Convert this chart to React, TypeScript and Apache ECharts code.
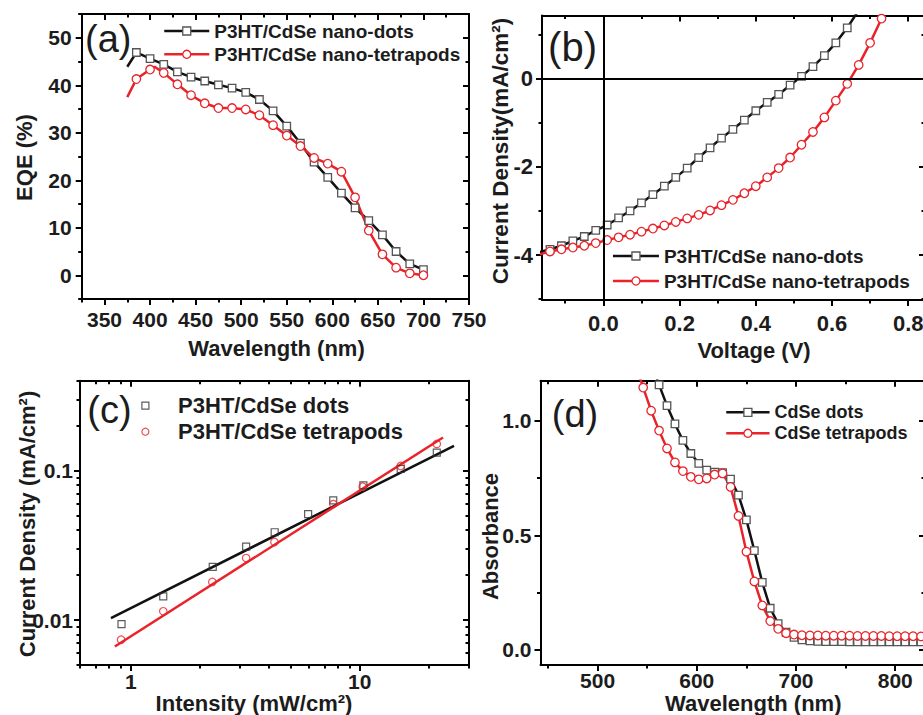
import React, { useEffect, useRef } from 'react';
import * as echarts from 'echarts';

// ---------- (a) EQE spectra ----------
const A_WL_DOTS = [375, 385, 400, 415, 430, 445, 460, 475, 490, 505, 520, 535, 550, 565, 580, 595, 610, 625, 640, 655, 670, 685, 700];
const A_EQE_DOTS = [43.9, 46.9, 45.6, 44.4, 42.8, 41.7, 40.9, 40.1, 39.4, 38.5, 37.0, 34.6, 31.4, 27.8, 23.8, 20.6, 17.3, 14.2, 11.5, 8.5, 5.0, 2.4, 1.2];
const A_UNMARKED_DOTS = [375];
const A_WL_TETRA = [375, 385, 400, 405, 415, 430, 445, 460, 475, 490, 505, 520, 535, 550, 565, 580, 595, 610, 625, 640, 655, 670, 685, 700];
const A_EQE_TETRA = [37.5, 41.3, 43.3, 43.9, 42.6, 40.2, 37.9, 36.2, 35.2, 35.2, 34.9, 33.7, 31.6, 29.4, 27.2, 24.7, 23.5, 21.8, 16.4, 9.4, 4.4, 1.6, 0.4, 0.0];
const A_UNMARKED_TETRA = [375, 405];
const A_X_TICKS = [350, 400, 450, 500, 550, 600, 650, 700, 750];
const A_X_MINOR = [325, 375, 425, 475, 525, 575, 625, 675, 725];
const A_Y_TICKS = [0, 10, 20, 30, 40, 50];
const A_Y_MINOR = [-5, 5, 15, 25, 35, 45, 55];

// ---------- (b) J-V curves ----------
const B_VOLT = [-0.17, -0.14, -0.11, -0.08, -0.05, -0.02, 0.01, 0.04, 0.07, 0.10, 0.13, 0.16, 0.19, 0.22, 0.25, 0.28, 0.31, 0.34, 0.37, 0.40, 0.43, 0.46, 0.49, 0.52, 0.55, 0.58, 0.61, 0.64, 0.67, 0.70, 0.73];
const B_J_DOTS = [-3.94, -3.87, -3.79, -3.68, -3.58, -3.44, -3.32, -3.16, -3.00, -2.82, -2.63, -2.44, -2.24, -2.03, -1.79, -1.57, -1.35, -1.15, -0.94, -0.73, -0.54, -0.36, -0.15, 0.05, 0.27, 0.52, 0.81, 1.15, 1.55];
const B_J_TETRA = [-3.99, -3.92, -3.87, -3.83, -3.79, -3.73, -3.66, -3.60, -3.54, -3.47, -3.40, -3.33, -3.25, -3.17, -3.09, -2.99, -2.87, -2.75, -2.60, -2.44, -2.24, -2.03, -1.79, -1.50, -1.21, -0.88, -0.50, -0.12, 0.31, 0.81, 1.36];
const B_UNMARKED = [-0.17];
const B_X_TICKS = [0, 0.2, 0.4, 0.6, 0.8];
const B_X_MINOR = [-0.1, 0.1, 0.3, 0.5, 0.7];
const B_Y_TICKS = [-4, -2, 0];
const B_Y_MINOR = [-5, -3, -1, 1];

// ---------- (c) intensity dependence (log-log) ----------
const C_INT_DOTS = [0.911, 1.386, 2.28, 3.19, 4.25, 5.95, 7.66, 10.37, 15.1, 21.7];
const C_J_DOTS = [0.0094, 0.0144, 0.0227, 0.031, 0.0387, 0.0511, 0.0632, 0.0797, 0.1026, 0.132];
const C_INT_TETRA = [0.907, 1.386, 2.27, 3.19, 4.24, 7.66, 10.3, 15.1, 21.7];
const C_J_TETRA = [0.00738, 0.01144, 0.018, 0.026, 0.0333, 0.0597, 0.078, 0.1075, 0.151];
const C_FIT_DOTS_I = [0.819, 25.8];
const C_FIT_DOTS_J = [0.0103, 0.1466];
const C_FIT_TETRA_I = [0.852, 23.1];
const C_FIT_TETRA_J = [0.00665, 0.1667];
const C_X_TICKS = [1, 10];
const C_X_MINOR = [0.6, 0.7, 0.8, 0.9, 2, 3, 4, 5, 6, 7, 8, 9, 20, 30];
const C_Y_TICKS = [0.01, 0.1];
const C_Y_MINOR = [0.005, 0.006, 0.007, 0.008, 0.009, 0.02, 0.03, 0.04, 0.05, 0.06, 0.07, 0.08, 0.09, 0.2, 0.3, 0.4];

// ---------- (d) absorbance ----------
const D_WL_DOTS = [554, 562, 570, 578, 586, 594, 602, 610, 618, 626, 634, 642, 650, 658, 666, 674, 682, 690, 698, 706, 714, 722, 730, 738, 746, 754, 762, 770, 778, 786, 794, 802, 810, 818, 826, 834];
const D_ABS_DOTS = [1.26, 1.158, 1.067, 0.987, 0.915, 0.858, 0.815, 0.785, 0.777, 0.774, 0.746, 0.676, 0.568, 0.434, 0.295, 0.182, 0.115, 0.077, 0.055, 0.044, 0.039, 0.037, 0.036, 0.036, 0.036, 0.035, 0.035, 0.035, 0.035, 0.035, 0.035, 0.035, 0.035, 0.035, 0.035, 0.035];
const D_WL_TETRA = [538, 546, 554, 562, 570, 578, 586, 594, 602, 610, 618, 626, 634, 642, 650, 658, 666, 674, 682, 690, 698, 706, 714, 722, 730, 738, 746, 754, 762, 770, 778, 786, 794, 802, 810, 818, 826, 834];
const D_ABS_TETRA = [1.25, 1.146, 1.045, 0.958, 0.880, 0.819, 0.781, 0.756, 0.745, 0.749, 0.766, 0.771, 0.712, 0.585, 0.429, 0.299, 0.194, 0.126, 0.092, 0.073, 0.067, 0.064, 0.063, 0.063, 0.062, 0.062, 0.062, 0.062, 0.061, 0.061, 0.061, 0.061, 0.060, 0.060, 0.060, 0.060, 0.059, 0.059];
const D_X_TICKS = [500, 600, 700, 800];
const D_X_MINOR = [450, 550, 650, 750];
const D_Y_TICKS = [0, 0.5, 1.0];
const D_Y_MINOR = [0.25, 0.75];

const FONT = '"Liberation Sans", Arial, Helvetica, sans-serif';
const INK = '#1c1c1c';
const RED = '#e8232a';
const BLACK = '#111111';
const GRAY = '#555555';

const log10 = (v: number) => Math.log10(v);

function axisGroup(dim: 'x' | 'y', grid: number, min: number, max: number, major: number[], minor: number[], labels: number[], fmt: (v: number) => string, margin: number, fontSize: number) {
  const common: any = { type: 'value', gridIndex: grid, min, max, splitLine: { show: false }, splitArea: { show: false } };
  const line = { show: true, onZero: false, lineStyle: { color: '#000', width: 2 } };
  const noLine = { show: false, onZero: false };
  const tick = (vals: number[], len: number, inside: boolean) => ({ show: true, customValues: vals, length: len, inside, lineStyle: { color: '#000', width: 2 } });
  const pos = dim === 'x' ? ['bottom', 'top'] : ['left', 'right'];
  return [
    { ...common, position: pos[0], axisLine: line, axisTick: tick(major, 6, false),
      axisLabel: { show: true, customValues: labels, formatter: fmt, margin, fontSize, fontWeight: 'bold', fontFamily: FONT, color: INK } },
    { ...common, position: pos[0], axisLine: noLine, axisTick: tick(minor, 3.5, false), axisLabel: { show: false } },
    { ...common, position: pos[1], axisLine: line, axisTick: tick(major, 6, true), axisLabel: { show: false } },
    { ...common, position: pos[1], axisLine: noLine, axisTick: tick(minor, 3.5, true), axisLabel: { show: false } },
  ];
}

const logFmt = (v: number) => {
  const val = Math.pow(10, v);
  return val >= 1 ? String(Math.round(val)) : String(+val.toPrecision(2));
};

function pairs(xs: number[], ys: number[], unmarked: number[] = []) {
  return ys.map((y, i) => (unmarked.includes(xs[i]) ? { value: [xs[i], y], symbol: 'none' } : [xs[i], y]));
}

function lineSeries(name: string, panel: number, data: any[], kind: 'dots' | 'tetra', extra: any = {}) {
  const isDots = kind === 'dots';
  return {
    name,
    type: 'line',
    xAxisIndex: panel * 4,
    yAxisIndex: panel * 4,
    data,
    symbol: isDots ? 'rect' : 'circle',
    symbolSize: isDots ? 7.5 : 8.5,
    showAllSymbol: true,
    clip: true,
    lineStyle: { color: isDots ? BLACK : RED, width: 2.5 },
    itemStyle: { color: '#fff', borderColor: isDots ? GRAY : RED, borderWidth: 1.3 },
    emphasis: { disabled: true },
    ...extra,
  };
}

function buildOption(): any {
  const xAxes = [
    ...axisGroup('x', 0, 325, 750, A_X_TICKS, A_X_MINOR, A_X_TICKS, (v) => String(v), 10, 21),
    ...axisGroup('x', 1, -0.161, 0.844, B_X_TICKS, B_X_MINOR, B_X_TICKS, (v) => v.toFixed(1), 12, 22),
    ...axisGroup('x', 2, log10(0.6), log10(30), C_X_TICKS.map(log10), C_X_MINOR.map(log10), C_X_TICKS.map(log10), logFmt, 6, 21),
    ...axisGroup('x', 3, 442.5, 830, D_X_TICKS, D_X_MINOR, D_X_TICKS, (v) => String(v), 5, 21),
  ];
  const yAxes = [
    ...axisGroup('y', 0, -5, 55, A_Y_TICKS, A_Y_MINOR, A_Y_TICKS, (v) => String(v), 10, 21),
    ...axisGroup('y', 1, -5.02, 1.43, B_Y_TICKS, B_Y_MINOR, B_Y_TICKS, (v) => String(v), 9, 22),
    ...axisGroup('y', 2, log10(0.005), log10(0.4), C_Y_TICKS.map(log10), C_Y_MINOR.map(log10), C_Y_TICKS.map(log10), logFmt, 7, 21),
    ...axisGroup('y', 3, -0.066, 1.176, D_Y_TICKS, D_Y_MINOR, D_Y_TICKS, (v) => v.toFixed(1), 9, 21),
  ];

  const legendText = (size: number, lh: number) => ({ fontSize: size, fontWeight: 'bold', fontFamily: FONT, color: INK, lineHeight: lh });
  const squareIcon = 'path://M0,0L10,0L10,10L0,10Z';

  const texts: any[] = [
    { t: '(a)', x: 108.3, y: 38.5, s: 38, w: 'normal' },
    { t: '(b)', x: 572.5, y: 46.5, s: 40, w: 'normal' },
    { t: '(c)', x: 109.5, y: 410, s: 38, w: 'normal' },
    { t: '(d)', x: 575, y: 413.5, s: 38, w: 'normal' },
    { t: 'Wavelength (nm)', x: 276.5, y: 348, s: 22, w: 'bold' },
    { t: 'EQE (%)', x: 24.7, y: 157.5, s: 22, w: 'bold', r: true },
    { t: 'Current Density(mA/cm²)', x: 500.8, y: 151, s: 22.5, w: 'bold', r: true },
    { t: 'Voltage (V)', x: 754, y: 350, s: 22, w: 'bold' },
    { t: 'Current Density (mA/cm²)', x: 27.5, y: 524, s: 22, w: 'bold', r: true },
    { t: 'Intensity (mW/cm²)', x: 254, y: 703, s: 22, w: 'bold' },
    { t: 'Absorbance', x: 490.8, y: 536.5, s: 22, w: 'bold', r: true },
    { t: 'Wavelength (nm)', x: 753.3, y: 703.5, s: 22, w: 'bold' },
  ];

  return {
    animation: false,
    backgroundColor: '#ffffff',
    grid: [
      { left: 81.7, top: 14, width: 387.3, height: 285, containLabel: false, outerBoundsMode: 'none' },
      { left: 542, top: 15.5, width: 383, height: 284.5, containLabel: false, outerBoundsMode: 'none' },
      { left: 80, top: 380.7, width: 389, height: 284.3, containLabel: false, outerBoundsMode: 'none' },
      { left: 540.5, top: 380.7, width: 384.5, height: 284.3, containLabel: false, outerBoundsMode: 'none' },
    ],
    xAxis: xAxes,
    yAxis: yAxes,
    legend: [
      { orient: 'vertical', left: 163, top: 21, padding: 0, itemGap: 3.3, itemWidth: 45, itemHeight: 10, selectedMode: false,
        data: ['P3HT/CdSe nano-dots', 'P3HT/CdSe nano-tetrapods'], textStyle: legendText(19, 20),
        lineStyle: { width: 2.5 }, itemStyle: { borderWidth: 1.3 } },
      { orient: 'vertical', left: 611.7, top: 246, padding: 0, itemGap: 5, itemWidth: 46, itemHeight: 10, selectedMode: false,
        data: ['P3HT/CdSe nano-dots', 'P3HT/CdSe nano-tetrapods'], textStyle: legendText(19, 20),
        lineStyle: { width: 2.5 }, itemStyle: { borderWidth: 1.3 } },
      { orient: 'vertical', left: 141.3, top: 394.7, padding: 0, itemGap: 4, itemWidth: 55.4, itemHeight: 7, selectedMode: false,
        data: [{ name: 'P3HT/CdSe dots', icon: squareIcon }, { name: 'P3HT/CdSe tetrapods', icon: 'circle' }],
        textStyle: legendText(22, 22), itemStyle: { borderWidth: 1.2 } },
      { orient: 'vertical', left: 725, top: 403.3, padding: 0, itemGap: 3, itemWidth: 43.3, itemHeight: 10, selectedMode: false,
        data: ['CdSe dots', 'CdSe tetrapods'], textStyle: legendText(18, 18),
        lineStyle: { width: 2.5 }, itemStyle: { borderWidth: 1.3 } },
    ],
    graphic: texts.map((o) => ({
      type: 'text',
      x: o.x,
      y: o.y,
      rotation: o.r ? Math.PI / 2 : 0,
      silent: true,
      z: 50,
      style: {
        text: o.t,
        fontSize: o.s,
        fontWeight: o.w,
        fontFamily: FONT,
        fill: INK,
        align: 'center',
        verticalAlign: 'middle',
        textAlign: 'center',
        textVerticalAlign: 'middle',
      },
    })),
    series: [
      // (a)
      lineSeries('P3HT/CdSe nano-dots', 0, pairs(A_WL_DOTS, A_EQE_DOTS, A_UNMARKED_DOTS), 'dots'),
      lineSeries('P3HT/CdSe nano-tetrapods', 0, pairs(A_WL_TETRA, A_EQE_TETRA, A_UNMARKED_TETRA), 'tetra'),
      // (b)
      lineSeries('P3HT/CdSe nano-dots', 1, pairs(B_VOLT, B_J_DOTS, B_UNMARKED), 'dots', {
        markLine: {
          silent: true,
          symbol: ['none', 'none'],
          label: { show: false },
          lineStyle: { color: '#000', width: 2, type: 'solid' },
          emphasis: { disabled: true },
          data: [{ xAxis: 0 }, { yAxis: 0 }],
        },
      }),
      lineSeries('P3HT/CdSe nano-tetrapods', 1, pairs(B_VOLT, B_J_TETRA, B_UNMARKED), 'tetra'),
      // (c)
      {
        name: 'P3HT/CdSe dots fit', type: 'line', xAxisIndex: 8, yAxisIndex: 8, symbol: 'none',
        data: C_FIT_DOTS_I.map((v, i) => [log10(v), log10(C_FIT_DOTS_J[i])]),
        lineStyle: { color: BLACK, width: 2.5 }, emphasis: { disabled: true },
      },
      {
        name: 'P3HT/CdSe tetrapods fit', type: 'line', xAxisIndex: 8, yAxisIndex: 8, symbol: 'none',
        data: C_FIT_TETRA_I.map((v, i) => [log10(v), log10(C_FIT_TETRA_J[i])]),
        lineStyle: { color: RED, width: 2.5 }, emphasis: { disabled: true },
      },
      {
        name: 'P3HT/CdSe dots', type: 'scatter', xAxisIndex: 8, yAxisIndex: 8, symbol: 'rect', symbolSize: 7,
        data: C_INT_DOTS.map((v, i) => [log10(v), log10(C_J_DOTS[i])]),
        itemStyle: { color: 'rgba(255,255,255,0)', borderColor: '#333', borderWidth: 1.2 }, emphasis: { disabled: true }, z: 3,
      },
      {
        name: 'P3HT/CdSe tetrapods', type: 'scatter', xAxisIndex: 8, yAxisIndex: 8, symbol: 'circle', symbolSize: 7.5,
        data: C_INT_TETRA.map((v, i) => [log10(v), log10(C_J_TETRA[i])]),
        itemStyle: { color: 'rgba(255,255,255,0)', borderColor: RED, borderWidth: 1.2 }, emphasis: { disabled: true }, z: 3,
      },
      // (d)
      lineSeries('CdSe dots', 3, pairs(D_WL_DOTS, D_ABS_DOTS, [554]), 'dots'),
      lineSeries('CdSe tetrapods', 3, pairs(D_WL_TETRA, D_ABS_TETRA, [538]), 'tetra'),
    ],
  };
}

export default function App() {
  const ref = useRef<HTMLDivElement>(null);
  useEffect(() => {
    if (!ref.current) return;
    const chart = echarts.init(ref.current, null, { renderer: 'svg', width: 945, height: 715 });
    chart.setOption(buildOption());
    return () => chart.dispose();
  }, []);
  return (
    <div style={{ position: 'fixed', left: 0, top: 0, width: 923, height: 715, overflow: 'hidden', background: '#fff' }}>
      <div ref={ref} style={{ width: 945, height: 715 }} />
    </div>
  );
}
